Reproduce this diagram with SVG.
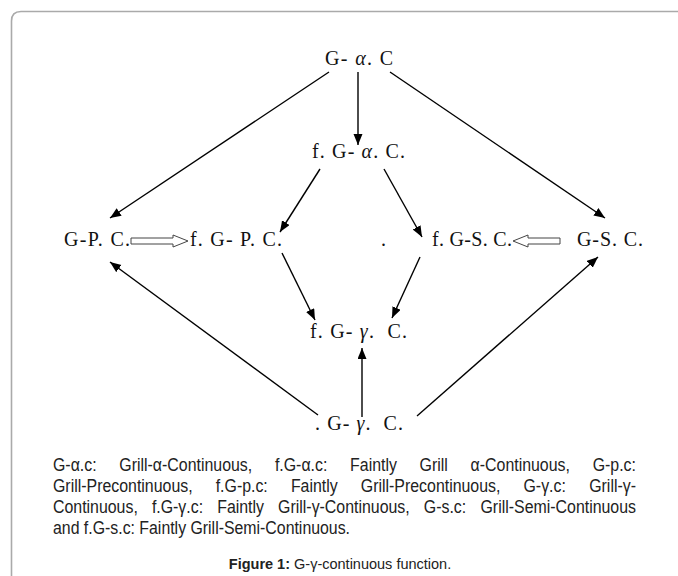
<svg xmlns="http://www.w3.org/2000/svg" width="678" height="576" viewBox="0 0 678 576">
<style>
.lbl{font-family:"Liberation Serif","Times New Roman",serif;font-size:20px;fill:#111}
.it{font-style:italic}
.cap{font-family:"Liberation Sans Narrow","Liberation Sans",Arial,sans-serif;font-size:17.5px;fill:#222}
.fig{font-family:"Liberation Sans",Arial,sans-serif;font-size:14.5px;fill:#222}
.conn line{stroke:#000;stroke-width:1.4;fill:none;marker-end:url(#ah)}
.hollow{fill:#fff;stroke:#444;stroke-width:1}
</style>
<defs>
<marker id="ah" markerUnits="userSpaceOnUse" markerWidth="12" markerHeight="10" refX="11" refY="4.5" orient="auto">
<path d="M0,0 L11,4.5 L0,9 z" fill="#000"/>
</marker>
</defs>
<rect width="678" height="576" fill="#fff"/>
<path d="M11.5,590 L11.5,21 Q11.5,11.5 21,11.5 L690,11.5" fill="none" stroke="#aaa" stroke-width="1.6"/>

<g class="conn">
<line x1="329" y1="72" x2="110" y2="218"/>
<line x1="358" y1="72" x2="358" y2="145"/>
<line x1="390" y1="72" x2="605" y2="218"/>
<line x1="320" y1="169" x2="280" y2="232"/>
<line x1="384" y1="169" x2="422" y2="237"/>
<line x1="282" y1="253" x2="315" y2="320"/>
<line x1="420" y1="257" x2="392" y2="318"/>
<line x1="362" y1="417" x2="362" y2="348"/>
<line x1="318" y1="415" x2="110" y2="262"/>
<line x1="417" y1="416" x2="598" y2="257"/>
<polygon class="hollow" points="131,238 173,238 173,235 188,241 173,247 173,244 131,244"/>
<polygon class="hollow" points="560,238 528,238 528,235 513,241 528,247 528,244 560,244"/>
</g>

<g id="g-alpha-c"><text class="lbl" x="325" y="65" textLength="68">G- <tspan class="it">α</tspan>. C</text></g>
<g id="fg-alpha-c"><text class="lbl" x="312" y="158" textLength="93">f. G- <tspan class="it">α</tspan>. C.</text></g>
<g id="g-p-c"><text class="lbl" x="64" y="246" textLength="66">G-P. C.</text></g>
<g id="fg-p-c"><text class="lbl" x="190" y="246" textLength="92">f. G- P. C.</text></g>
<g id="dot"><text class="lbl" x="381" y="246">.</text></g>
<g id="fg-s-c"><text class="lbl" x="432" y="246" textLength="80">f. G-S. C.</text></g>
<g id="g-s-c"><text class="lbl" x="577" y="246" textLength="66">G-S. C.</text></g>
<g id="fg-gamma-c"><text class="lbl" x="310" y="338" textLength="97" xml:space="preserve">f. G- <tspan class="it">γ</tspan>.  C.</text></g>
<g id="g-gamma-c"><text class="lbl" x="315" y="430" textLength="88" xml:space="preserve">. G- <tspan class="it">γ</tspan>.  C.</text></g>

<g id="legend" class="cap">
<text x="53" y="471" textLength="43.6" lengthAdjust="spacingAndGlyphs">G-α.c:</text>
<text x="119.3" y="471" textLength="132.9" lengthAdjust="spacingAndGlyphs">Grill-α-Continuous,</text>
<text x="274.9" y="471" textLength="52.5" lengthAdjust="spacingAndGlyphs">f.G-α.c:</text>
<text x="350.1" y="471" textLength="46.8" lengthAdjust="spacingAndGlyphs">Faintly</text>
<text x="419.6" y="471" textLength="28.3" lengthAdjust="spacingAndGlyphs">Grill</text>
<text x="470.6" y="471" textLength="99.3" lengthAdjust="spacingAndGlyphs">α-Continuous,</text>
<text x="592.7" y="471" textLength="43.3" lengthAdjust="spacingAndGlyphs">G-p.c:</text>

<text x="53" y="492" textLength="139.6" lengthAdjust="spacingAndGlyphs">Grill-Precontinuous,</text>
<text x="215.7" y="492" textLength="52.1" lengthAdjust="spacingAndGlyphs">f.G-p.c:</text>
<text x="290.9" y="492" textLength="46.8" lengthAdjust="spacingAndGlyphs">Faintly</text>
<text x="360.8" y="492" textLength="139.6" lengthAdjust="spacingAndGlyphs">Grill-Precontinuous,</text>
<text x="523.5" y="492" textLength="42.4" lengthAdjust="spacingAndGlyphs">G-γ.c:</text>
<text x="589.2" y="492" textLength="46.8" lengthAdjust="spacingAndGlyphs">Grill-γ-</text>

<text x="53" y="513" textLength="84.8" lengthAdjust="spacingAndGlyphs">Continuous,</text>
<text x="151.9" y="513" textLength="51.2" lengthAdjust="spacingAndGlyphs">f.G-γ.c:</text>
<text x="217.2" y="513" textLength="46.8" lengthAdjust="spacingAndGlyphs">Faintly</text>
<text x="278.1" y="513" textLength="131.6" lengthAdjust="spacingAndGlyphs">Grill-γ-Continuous,</text>
<text x="423.8" y="513" textLength="42.4" lengthAdjust="spacingAndGlyphs">G-s.c:</text>
<text x="480.5" y="513" textLength="155.5" lengthAdjust="spacingAndGlyphs">Grill-Semi-Continuous</text>

<text x="53" y="534" textLength="297" lengthAdjust="spacingAndGlyphs">and f.G-s.c: Faintly Grill-Semi-Continuous.</text>
</g>
<g id="caption"><text class="fig" x="340" y="569" text-anchor="middle"><tspan font-weight="bold">Figure 1:</tspan> G-γ-continuous function.</text></g>
</svg>
